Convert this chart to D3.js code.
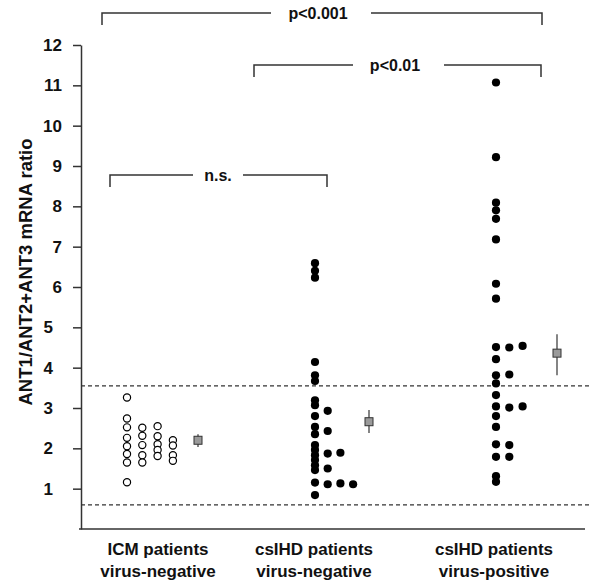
<!DOCTYPE html>
<html>
<head>
<meta charset="utf-8">
<script src="https://cdn.jsdelivr.net/npm/d3@7"></script>
<style>
  body { margin: 0; background: #fff; }
  text { font-family: "Liberation Sans", Arial, sans-serif; font-weight: bold; fill: #111; }
</style>
</head>
<body>
<div id="chart"></div>
<script>
const groups = ['ICM', 'csIHDneg', 'csIHDpos'];
const groupLabels = [
  ['ICM patients', 'virus-negative'],
  ['csIHD patients', 'virus-negative'],
  ['csIHD patients', 'virus-positive']
];

// dot columns per group
const icmCols = [
  [3.26, 2.74, 2.52, 2.26, 2.05, 1.86, 1.65, 1.16],
  [2.51, 2.31, 2.08, 1.83, 1.65],
  [2.55, 2.30, 2.10, 1.96, 1.81],
  [2.20, 2.07, 1.83, 1.69]
];
const negCols = [
  [6.59, 6.40, 6.23, 4.14, 3.81, 3.67, 3.19, 3.07, 2.80, 2.53, 2.35, 2.08, 1.96, 1.83, 1.71, 1.58, 1.46, 1.15, 0.84],
  [2.93, 2.43, 1.87, 1.50, 1.11],
  [1.89, 1.13],
  [1.11]
];
const posCols = [
  [11.07, 9.22, 8.09, 7.90, 7.69, 7.18, 6.08, 5.71, 4.51, 4.21, 3.81, 3.61, 3.32, 3.04, 2.80, 2.53, 2.10, 1.79, 1.31, 1.17],
  [4.50, 3.83, 3.01, 2.08, 1.79],
  [4.54, 3.04]
];
const means = [2.20, 2.66, 4.36];
const errLow = [2.03, 2.38, 3.81];
const errHigh = [2.35, 2.95, 4.83];
const refLines = [3.55, 0.60];
const yTicks = d3.range(1, 13);

const WIDTH = 594, HEIGHT = 584;
const svg = d3.select('#chart').append('svg')
  .attr('width', WIDTH)
  .attr('height', HEIGHT);

const y = d3.scaleLinear().domain([0, 12]).range([529, 45]);
const x = d3.scaleOrdinal().domain(groups).range([127, 315, 496]); // first dot column of each group
const colStep = [15.3, 12.7, 13.3];
const meanDx = [71, 54, 61];
const labelDx = [31, -1, -2];
const AXIS_X = 81;

// y axis
const yAxis = svg.append('g')
  .attr('transform', `translate(${AXIS_X},0)`)
  .call(d3.axisLeft(y).tickValues(yTicks).tickSize(8).tickSizeOuter(0).tickPadding(11))
yAxis.select('.domain').attr('stroke', '#333').attr('stroke-width', 1.5)
yAxis.selectAll('.tick line').attr('stroke', '#333').attr('stroke-width', 1.5)
yAxis.selectAll('.tick text')
  .attr('font-size', 17)
  .attr('font-family', '"Liberation Sans", Arial, sans-serif')
  .attr('fill', '#111')
  .attr('x', d => d <= 5 ? -28 : -19) // lower labels sit further left in the original

// x axis line
svg.append('line')
  .attr('x1', AXIS_X - 2).attr('x2', 585)
  .attr('y1', y(0)).attr('y2', y(0))
  .attr('stroke', '#333').attr('stroke-width', 1.5)

// y axis title
svg.append('text')
  .attr('transform', `translate(32, 272) rotate(-90)`)
  .attr('text-anchor', 'middle')
  .attr('font-size', 18.5)
  .text('ANT1/ANT2+ANT3 mRNA ratio')

// reference lines
svg.selectAll('.ref').data(refLines).enter().append('line')
  .attr('x1', AXIS_X).attr('x2', 590)
  .attr('y1', d => y(d)).attr('y2', d => y(d))
  .attr('stroke', '#333').attr('stroke-width', 1.2)
  .attr('stroke-dasharray', '4,3')

// category labels
groupLabels.forEach((lines, i) => {
  const t = svg.append('text')
    .attr('text-anchor', 'middle')
    .attr('font-size', 17)
  lines.forEach((s, j) => {
    t.append('tspan')
      .attr('x', x(groups[i]) + labelDx[i])
      .attr('y', 555 + j * 22)
      .text(s)
  })
})

// dots
const allCols = [icmCols, negCols, posCols];
const dots = [];
allCols.forEach((cols, gi) => {
  cols.forEach((col, ci) => {
    col.forEach(v => dots.push({ g: gi, c: ci, v }))
  })
})
svg.selectAll('.dot').data(dots).enter().append('circle')
  .attr('cx', d => x(groups[d.g]) + d.c * colStep[d.g])
  .attr('cy', d => y(d.v))
  .attr('r', d => d.g === 0 ? 3.6 : 4.1)
  .attr('fill', d => d.g === 0 ? '#fff' : '#000')
  .attr('stroke', '#000')
  .attr('stroke-width', d => d.g === 0 ? 1.2 : 0)

// mean +/- error
groups.forEach((g, i) => {
  const cx = x(g) + meanDx[i];
  svg.append('line')
    .attr('x1', cx).attr('x2', cx)
    .attr('y1', y(errLow[i])).attr('y2', y(errHigh[i]))
    .attr('stroke', '#333').attr('stroke-width', 1.2)
  svg.append('rect')
    .attr('x', cx - 4).attr('y', y(means[i]) - 4)
    .attr('width', 8).attr('height', 8)
    .attr('fill', '#9a9a9a').attr('stroke', '#333').attr('stroke-width', 1)
})

// significance brackets
const brackets = [
  { label: 'p<0.001', x1: 102, x2: 542, y: 13, drop: 12, tx: 318, gap: [271, 371] },
  { label: 'p<0.01', x1: 254, x2: 541, y: 65, drop: 12, tx: 395, gap: [353, 444] },
  { label: 'n.s.', x1: 110, x2: 327, y: 175, drop: 12, tx: 218, gap: [193, 243] }
];
brackets.forEach(b => {
  svg.append('path')
    .attr('d', `M${b.x1},${b.y + b.drop}V${b.y}H${b.gap[0]}M${b.gap[1]},${b.y}H${b.x2}V${b.y + b.drop}`)
    .attr('fill', 'none').attr('stroke', '#333').attr('stroke-width', 1.5)
  svg.append('text')
    .attr('x', b.tx).attr('y', b.y + 6)
    .attr('text-anchor', 'middle')
    .attr('font-size', 16)
    .text(b.label)
})
</script>
</body>
</html>
